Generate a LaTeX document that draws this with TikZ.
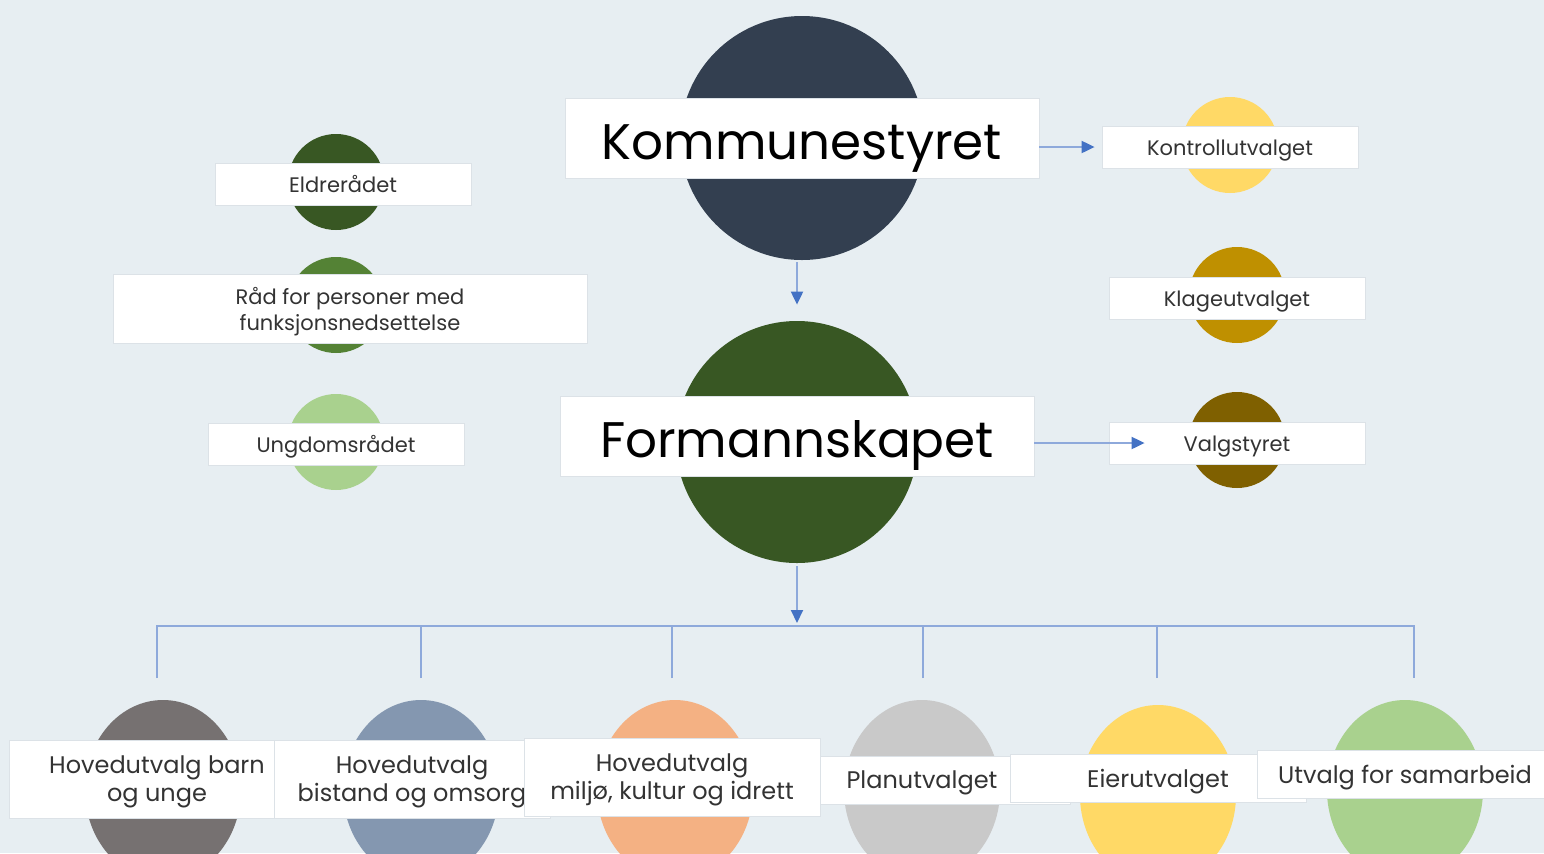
\documentclass[tikz,border=0pt]{standalone}
\usepackage{fontspec}
\setmainfont{Poppins}
\usetikzlibrary{shapes.geometric,arrows.meta,positioning}

\definecolor{bg}{HTML}{E7EEF2}
\definecolor{navy}{HTML}{333F50}
\definecolor{dkgreen}{HTML}{385723}
\definecolor{midgreen}{HTML}{548235}
\definecolor{ltgreen}{HTML}{A9D18E}
\definecolor{gold}{HTML}{FFD966}
\definecolor{ochre}{HTML}{BF9000}
\definecolor{brown}{HTML}{7F6000}
\definecolor{taupe}{HTML}{767171}
\definecolor{steel}{HTML}{8497B0}
\definecolor{peach}{HTML}{F4B183}
\definecolor{silver}{HTML}{C9C9C9}
\definecolor{lineblue}{HTML}{8EA9DB}
\definecolor{tipblue}{HTML}{4472C4}
\definecolor{boxedge}{HTML}{DCE2E7}
\definecolor{txt}{HTML}{333333}

\begin{document}
\begin{tikzpicture}[x=0.5pt,y=-0.5pt,
  disc/.style={circle,draw=none,inner sep=0pt,minimum size=#1},
  blob/.style={ellipse,draw=none,inner sep=0pt,minimum width=78pt,minimum height=90pt},
  whitebox/.style={fill=white,draw=boxedge,line width=0.4pt,inner sep=0pt,align=center,text=txt},
  bigbox/.style={whitebox,text=black,minimum width=237pt,minimum height=40pt,
    text height=21pt,text depth=0pt,font=\fontsize{25}{30}\selectfont},
  smallbox/.style={whitebox,minimum width=128pt,minimum height=21pt,
    text height=8pt,text depth=0pt,font=\fontsize{10.5}{13}\selectfont},
  lowbox/.style={whitebox,minimum width=148pt,text depth=0pt,font=\fontsize{12}{14}\selectfont},
  link/.style={draw=lineblue,line width=1pt,-{Triangle[length=6.5pt,width=6pt,color=tipblue]}},
  tree/.style={draw=lineblue,line width=1pt}]
  \useasboundingbox (0,0) rectangle (1544,853);
  \clip (0,0) rectangle (1544,853);
  \fill[bg] (0,0) rectangle (1544,853);

  % main bodies
  \node[disc=122pt,fill=navy] (ksc) at (802,138) {};
  \node[disc=121pt,fill=dkgreen] (fsc) at (797,442) {};
  \node[bigbox] (ks) at (802,138) {Kommunestyret};
  \node[bigbox] (fs) at (797,436) {Formannskapet};

  % councils on the left
  \node[disc=48pt,fill=dkgreen] (eldc) at (336,182) {};
  \node[disc=48pt,fill=midgreen] (raadc) at (336,305) {};
  \node[disc=48pt,fill=ltgreen] (ungc) at (336,442) {};
  \node[smallbox] (eld) at (343,184) {Eldrerådet};
  \node[smallbox,minimum width=237pt,minimum height=34.5pt,text height=21.5pt] (raad) at (350,309) {Råd for personer med\\funksjonsnedsettelse};
  \node[smallbox] (ung) at (336,444) {Ungdomsrådet};

  % committees on the right
  \node[disc=48pt,fill=gold] (kontc) at (1230,145) {};
  \node[disc=48pt,fill=ochre] (klagc) at (1237,295) {};
  \node[disc=48pt,fill=brown] (valgc) at (1237,440) {};
  \node[smallbox] (kont) at (1230,147) {Kontrollutvalget};
  \node[smallbox] (klag) at (1237,298) {Klageutvalget};
  \node[smallbox] (valg) at (1237,443) {Valgstyret};

  % bottom row
  \node[blob,fill=taupe] (hbuc) at (163,790) {};
  \node[blob,fill=steel] (hboc) at (421,790) {};
  \node[blob,fill=peach] (hmkc) at (675,790) {};
  \node[blob,fill=silver] (planc) at (922,790) {};
  \node[blob,fill=gold] (eierc) at (1158,795) {};
  \node[blob,fill=ltgreen] (samc) at (1405,790) {};
  \node[lowbox,minimum height=39pt] (hbu) at (157,779) {Hovedutvalg barn\\og unge};
  \node[lowbox,minimum width=138pt,minimum height=39pt] (hbo) at (412,779) {Hovedutvalg\\bistand og omsorg};
  \node[lowbox,minimum height=24pt] (plan) at (922,780) {Planutvalget};
  \node[lowbox,minimum height=24pt] (eier) at (1158,778) {Eierutvalget};
  \node[lowbox,minimum height=39pt] (hmk) at (672,777) {Hovedutvalg\\miljø, kultur og idrett};
  \node[lowbox,minimum height=24pt] (sam) at (1405,774) {Utvalg for samarbeid};

  % connectors
  \coordinate (hub) at (797,626);
  \coordinate (d1) at (157,678);
  \coordinate (d2) at (421,678);
  \coordinate (d3) at (672,678);
  \coordinate (d4) at (923,678);
  \coordinate (d5) at (1157,678);
  \coordinate (d6) at (1414,678);
  \draw[tree] (d1) -- (d1 |- hub) -- (d6 |- hub) -- (d6);
  \foreach \d in {d2,d3,d4,d5}
    \draw[tree] (\d) -- (\d |- hub);

  \path
  (ksc.south -| fsc.north) edge [link,shorten <=1pt,shorten >=8pt] (fsc.north)
  (fsc.south) edge [link,shorten <=1.5pt,shorten >=1.5pt] (hub)
  (ks.east |- kont.west) edge [link,shorten >=3.5pt] (kont.west)
  (fs.east |- valg.west) edge [link] ([xshift=18pt]valg.west)
  ;
\end{tikzpicture}
\end{document}
